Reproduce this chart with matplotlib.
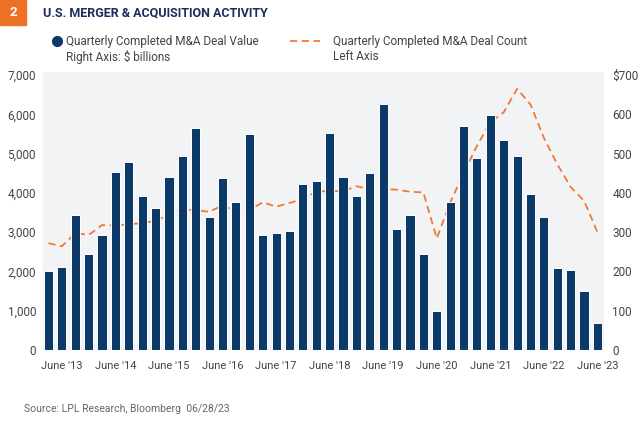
import matplotlib
matplotlib.use('Agg')
import matplotlib.pyplot as plt
from matplotlib.patches import Rectangle
from matplotlib.lines import Line2D
import numpy as np

# Quarterly, Mar '13 .. Jun '23
quarters = ["Mar '13", "June '13", "Sep '13", "Dec '13", "Mar '14", "June '14", "Sep '14", "Dec '14",
            "Mar '15", "June '15", "Sep '15", "Dec '15", "Mar '16", "June '16", "Sep '16", "Dec '16",
            "Mar '17", "June '17", "Sep '17", "Dec '17", "Mar '18", "June '18", "Sep '18", "Dec '18",
            "Mar '19", "June '19", "Sep '19", "Dec '19", "Mar '20", "June '20", "Sep '20", "Dec '20",
            "Mar '21", "June '21", "Sep '21", "Dec '21", "Mar '22", "June '22", "Sep '22", "Dec '22",
            "Mar '23", "June '23"]

# deal value, $ billions (right axis)
deal_value = [201, 211, 344, 244, 293, 454, 478, 392, 361, 441, 494, 564,
              339, 439, 378, 550, 293, 298, 303, 423, 430, 553, 441, 392,
              451, 627, 308, 343, 244, 99, 378, 571, 490, 598, 535, 494,
              397, 339, 209, 204, 150, 69]

# deal count (left axis)
deal_count = [2720, 2640, 2980, 2930, 3180, 3170, 3200, 3230, 3290, 3450, 3580, 3560,
              3520, 3680, 3530, 3560, 3760, 3650, 3740, 3850, 4030, 4050, 4040, 4170,
              4100, 4100, 4080, 4030, 4010, 2840, 3750, 4500, 5200, 5800, 6050, 6650,
              6250, 5400, 4730, 4150, 3800, 3000]

left_ticks = [0, 1000, 2000, 3000, 4000, 5000, 6000, 7000]
left_labels = ['0', '1,000', '2,000', '3,000', '4,000', '5,000', '6,000', '7,000']
right_ticks = [0, 100, 200, 300, 400, 500, 600, 700]
right_labels = ['0', '100', '200', '300', '400', '500', '600', '$700']

NAVY = '#0b3a68'
ORANGE = '#f07a35'
GREY_TXT = '#444444'
BG = '#f2f3f5'
TICK_FONT = ['Roboto', 'DejaVu Sans']
TEXT_FONT = ['Roboto', 'DejaVu Sans']

x = np.arange(len(quarters))

fig = plt.figure(figsize=(6.4, 4.3), dpi=100)
ax = fig.add_axes([43 / 640, 80 / 430, 561 / 640, 278.3 / 430])
ax.set_facecolor(BG)

# line on the left axis (drawn under the bars)
ax.plot(x, deal_count, color=ORANGE, lw=1.3, dashes=(4, 2.5))
ax.set_ylim(0, 7085)
ax.set_xlim(-0.41, 41.49)
ax.set_yticks(left_ticks)
ax.set_yticklabels(left_labels, family=TICK_FONT, fontsize=8.5, color=GREY_TXT)

tick_idx = [i for i, q in enumerate(quarters) if q.startswith('June')]
ax.set_xticks(tick_idx)
ax.set_xticklabels([quarters[i] for i in tick_idx], family=TICK_FONT, fontsize=8, color=GREY_TXT)
ax.tick_params(length=0, pad=8)
ax.tick_params(axis='y', pad=5)
for s in ax.spines.values():
    s.set_visible(False)

# bars on the right axis
ax2 = ax.twinx()
ax2.bar(x, deal_value, width=0.68, color=NAVY, edgecolor='white', linewidth=0.7)
ax2.set_ylim(0, 708.5)
ax2.set_yticks(right_ticks)
ax2.set_yticklabels(right_labels, family=TICK_FONT, fontsize=8.5, color=GREY_TXT)
ax2.tick_params(length=0, pad=6)
for s in ax2.spines.values():
    s.set_visible(False)
ax2.axhline(0, color='#aaaaaa', lw=0.8)

# header
fig.patches.append(Rectangle((0, 1 - 25 / 430), 26 / 640, 25 / 430, transform=fig.transFigure,
                             color='#ec7125'))
fig.text(13 / 640, 1 - 12.5 / 430, '2', color='white', fontsize=9.5, fontweight='bold',
         ha='center', va='center', family=TEXT_FONT)
fig.text(43 / 640, 1 - 13 / 430, 'U.S. MERGER & ACQUISITION ACTIVITY', color='#1b2f5c',
         fontsize=9, fontweight='bold', ha='left', va='center', family=TEXT_FONT)

# legend
fig.lines.append(Line2D([57 / 640], [1 - 41 / 430], transform=fig.transFigure, marker='o',
                        markersize=7, color=NAVY, linestyle='none'))
fig.text(66 / 640, 1 - 41 / 430, 'Quarterly Completed M&A Deal Value', color=GREY_TXT,
         fontsize=8.5, ha='left', va='center', family=TEXT_FONT)
fig.text(66 / 640, 1 - 57 / 430, 'Right Axis: $ billions', color=GREY_TXT,
         fontsize=8.5, ha='left', va='center', family=TEXT_FONT)
fig.lines.append(Line2D([290 / 640, 320 / 640], [1 - 41 / 430, 1 - 41 / 430], transform=fig.transFigure,
                        color=ORANGE, lw=1.3, dashes=(4, 2.5)))
fig.text(333 / 640, 1 - 41 / 430, 'Quarterly Completed M&A Deal Count', color=GREY_TXT,
         fontsize=8.5, ha='left', va='center', family=TEXT_FONT)
fig.text(333 / 640, 1 - 57 / 430, 'Left Axis', color=GREY_TXT,
         fontsize=8.5, ha='left', va='center', family=TEXT_FONT)

fig.text(24 / 640, 1 - 409 / 430, 'Source: LPL Research, Bloomberg  06/28/23', color='#666666',
         fontsize=7.5, ha='left', va='center', family=TEXT_FONT)

fig.savefig('out.png', dpi=100)
